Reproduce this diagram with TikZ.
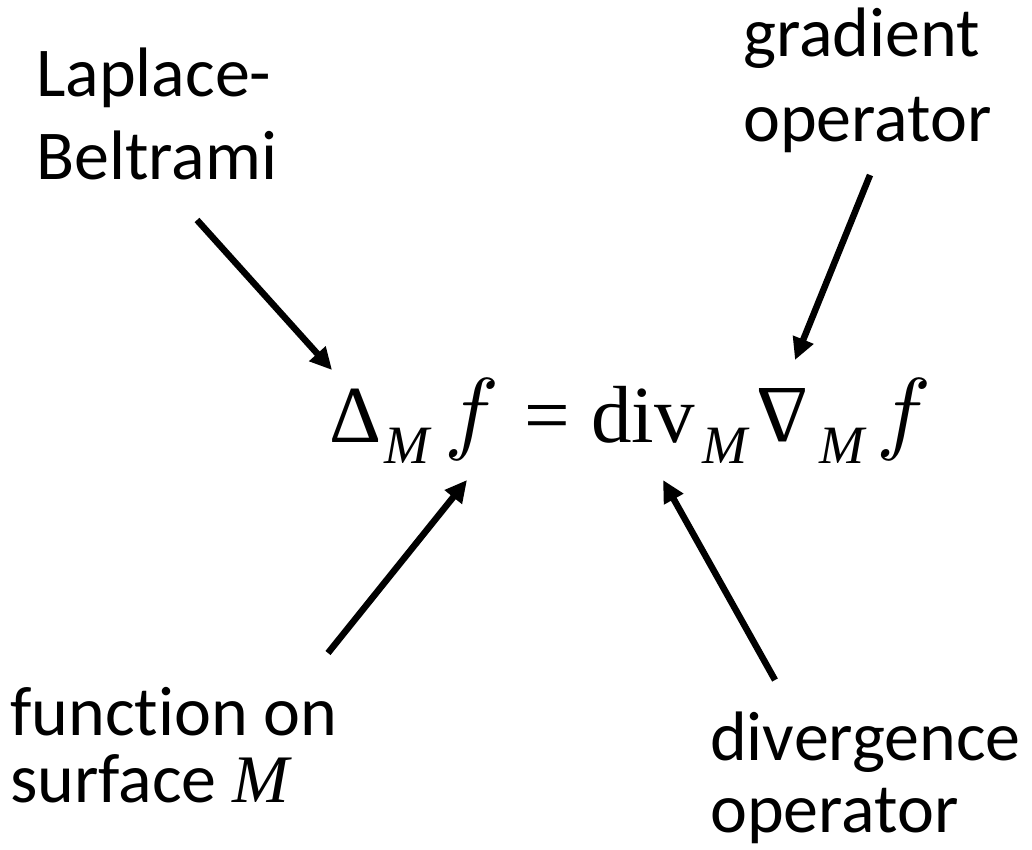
\documentclass[tikz,border=0pt]{standalone}
\usepackage{fontspec}
\setmainfont{Carlito}[Ligatures=NoCommon]
\newfontfamily\tnr{Liberation Serif}
\newfontfamily\tnri{Liberation Serif Italic}
\usetikzlibrary{arrows.meta}
\newcommand{\bigf}{\scalebox{9.2}{$f$}}
\tikzset{
  lbl/.style={anchor=base west, inner sep=0pt, font=\fontsize{70}{84}\selectfont},
  eqbig/.style={anchor=base west, inner sep=0pt, font=\tnr\fontsize{81}{90}\selectfont},
  eqit/.style={anchor=base west, inner sep=0pt, font=\fontsize{10}{12}\selectfont},
  eqsub/.style={anchor=base west, inner sep=0pt, font=\tnri\fontsize{54}{60}\selectfont},
  pointer/.style={line width=6.5pt, -{Triangle[length=22pt,width=21pt]}}
}
\begin{document}
\begin{tikzpicture}[x=1pt,y=-1pt]
\useasboundingbox (0,0) rectangle (1032,850);
% labels
\node[lbl] (lap1) at (36,97) {Laplace-};
\node[lbl] (lap2) at (36,180) {Beltrami};
\node[lbl] (grad1) at (743,57) {gradient};
\node[lbl] (grad2) at (743,142) {operator};
\node[lbl] (fun1) at (10,735) {function on};
\node[lbl] (fun2) at (10,802) {surface {\tnri\fontsize{68}{80}\selectfont M}};
\node[lbl] (dv1) at (710,760) {divergence};
\node[lbl] (dv2) at (710,832) {operator};
% equation
\node[eqbig] (delta) at (329,442) {Δ};
\node[eqsub] (m1) at (384,463) {M};
\node[eqit] (f1) at (444,442) {\bigf};
\node[eqbig] (eq) at (524,442) {=};
\node[eqbig] (divop) at (591,442) {div};
\node[eqsub] (m2) at (702,463) {M};
\node[eqbig] (nabla) at (756,442) {\rotatebox[origin=c]{180}{Δ}};
\node[eqsub] (m3) at (819,463) {M};
\node[eqit] (f2) at (876,442) {\bigf};
% arrow ends
\coordinate (t1) at (197,220); \coordinate (h1) at (332,370);
\coordinate (t2) at (870,175); \coordinate (h2) at (795,360);
\coordinate (t3) at (328,653); \coordinate (h3) at (467,480);
\coordinate (t4) at (775,680); \coordinate (h4) at (663,480);
\draw[pointer] (t1) -- (h1);
\draw[pointer] (t2) -- (h2);
\draw[pointer] (t3) -- (h3);
\draw[pointer] (t4) -- (h4);
\end{tikzpicture}
\end{document}
